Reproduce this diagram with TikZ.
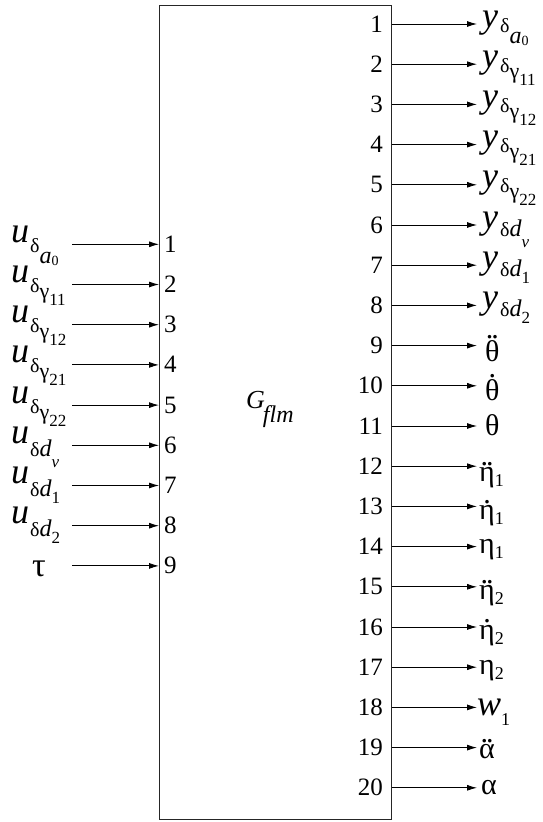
\documentclass[tikz,border=0pt]{standalone}
\usepackage{fontspec}
\setmainfont{Liberation Serif}
\usetikzlibrary{arrows.meta}
\newcommand{\fs}[1]{\fontsize{#1}{#1}\selectfont}
\newcommand{\Mn}[2]{\raisebox{#1}{\fs{36}\itshape #2}}
\newcommand{\Dl}[1]{\raisebox{#1}{\fs{20}δ}}
\newcommand{\Sa}{\raisebox{-19pt}{\fs{24}\itshape a}\raisebox{-21pt}{\fs{14}0}}
\newcommand{\Sg}[1]{\raisebox{-14pt}{\fs{22}γ}\raisebox{-21pt}{\fs{17}#1}}
\newcommand{\Sdv}{\raisebox{-11pt}{\fs{24}\itshape d}\raisebox{-22pt}{\fs{17}\itshape v}}
\newcommand{\Sdn}[1]{\raisebox{-11pt}{\fs{24}\itshape d}\raisebox{-18pt}{\fs{17}#1}}
\newsavebox{\accbox}
\newcommand{\Dot}[1]{\sbox{\accbox}{#1}\ooalign{\usebox{\accbox}\cr\hidewidth\raisebox{\dimexpr\ht\accbox+2pt\relax}{\smash{.}}\hidewidth\cr}}
\newcommand{\DDot}[1]{\sbox{\accbox}{#1}\ooalign{\usebox{\accbox}\cr\hidewidth\raisebox{\dimexpr\ht\accbox+2pt\relax}{\smash{.\kern-2pt.}}\hidewidth\cr}}
\newcommand{\Sb}[2]{\raisebox{#1}{\fs{18}#2}}
\tikzset{
  arr/.style={-{Latex[length=10pt,width=6pt]}, line width=0.9pt},
  num/.style={font=\fs{25}, inner sep=0pt},
  lab/.style={anchor=base west, inner sep=0pt},
  glab/.style={anchor=base west, inner sep=0pt, font=\fs{30}},
}
\begin{document}
\begin{tikzpicture}[x=1pt,y=-1pt]
\useasboundingbox (0,0) rectangle (542,822);
\node[draw=black!85, line width=1.2pt, minimum width=232pt, minimum height=814pt,
      anchor=north west, inner sep=0pt] (box) at (159,5) {};
\node[lab] (g) at (246,408) {\fs{26}\itshape G\kern-2pt\raisebox{-14pt}{\fs{24}\itshape flm}};
% inputs
\foreach \k in {1,...,9} {
  \coordinate (l\k) at (72,{244.3+40.2*(\k-1)});
  \draw[arr] (l\k) -- (l\k -| box.west);
  \node[num, anchor=base west] (ln\k) at (164,{252.3+40.2*(\k-1)}) {\k};
}
% outputs
\foreach \k in {1,...,20} {
  \coordinate (r\k) at (477,{24+40.2*(\k-1)});
  \draw[arr] (r\k -| box.east) -- (r\k);
  \node[num, anchor=base east] (rn\k) at (383,{32+40.2*(\k-1)}) {\k};
}
% input labels
\node[lab] (u1) at (11,{244.3+40.2*0}) {\Mn{2pt}{u}\kern1pt\Dl{-8pt}\Sa};
\node[lab] (u2) at (11,{244.3+40.2*1}) {\Mn{2pt}{u}\kern1pt\Dl{-8pt}\Sg{11}};
\node[lab] (u3) at (11,{244.3+40.2*2}) {\Mn{2pt}{u}\kern1pt\Dl{-8pt}\Sg{12}};
\node[lab] (u4) at (11,{244.3+40.2*3}) {\Mn{2pt}{u}\kern1pt\Dl{-8pt}\Sg{21}};
\node[lab] (u5) at (11,{244.3+40.2*4}) {\Mn{2pt}{u}\kern1pt\Dl{-8pt}\Sg{22}};
\node[lab] (u6) at (11,{244.3+40.2*5}) {\Mn{2pt}{u}\kern1pt\Dl{-11pt}\Sdv};
\node[lab] (u7) at (11,{244.3+40.2*6}) {\Mn{2pt}{u}\kern1pt\Dl{-11pt}\Sdn{1}};
\node[lab] (u8) at (11,{244.3+40.2*7}) {\Mn{2pt}{u}\kern1pt\Dl{-11pt}\Sdn{2}};
\node[lab, font=\fs{34}] (u9) at (32,{244.3+40.2*8+11}) {τ};
% output labels
\node[lab] (y1) at (482,{24+40.2*0}) {\Mn{-3pt}{y}\kern2pt\Dl{-8pt}\Sa};
\node[lab] (y2) at (482,{24+40.2*1}) {\Mn{-3pt}{y}\kern2pt\Dl{-8pt}\Sg{11}};
\node[lab] (y3) at (482,{24+40.2*2}) {\Mn{-3pt}{y}\kern2pt\Dl{-8pt}\Sg{12}};
\node[lab] (y4) at (482,{24+40.2*3}) {\Mn{-3pt}{y}\kern2pt\Dl{-8pt}\Sg{21}};
\node[lab] (y5) at (482,{24+40.2*4}) {\Mn{-3pt}{y}\kern2pt\Dl{-8pt}\Sg{22}};
\node[lab] (y6) at (482,{24+40.2*5}) {\Mn{-3pt}{y}\kern2pt\Dl{-11pt}\Sdv};
\node[lab] (y7) at (482,{24+40.2*6}) {\Mn{-3pt}{y}\kern2pt\Dl{-11pt}\Sdn{1}};
\node[lab] (y8) at (482,{24+40.2*7}) {\Mn{-3pt}{y}\kern2pt\Dl{-11pt}\Sdn{2}};
\node[glab] (o9)  at (485,{24+40.2*8+16})  {\DDot{θ}};
\node[glab] (o10) at (485,{24+40.2*9+15})  {\Dot{θ}};
\node[glab] (o11) at (485,{24+40.2*10+9})  {θ};
\node[glab] (o12) at (479,{24+40.2*11+15}) {\DDot{η}\Sb{-5pt}{1}};
\node[glab] (o13) at (479,{24+40.2*12+13}) {\Dot{η}\Sb{-5pt}{1}};
\node[glab] (o14) at (479,{24+40.2*13+7})  {η\Sb{-5pt}{1}};
\node[glab] (o15) at (479,{24+40.2*14+13}) {\DDot{η}\Sb{-5pt}{2}};
\node[glab] (o16) at (479,{24+40.2*15+12}) {\Dot{η}\Sb{-5pt}{2}};
\node[glab] (o17) at (479,{24+40.2*16+7})  {η\Sb{-5pt}{2}};
\node[lab]  (o18) at (477,{24+40.2*17+8})  {\Mn{0pt}{w}\Sb{-10pt}{1}};
\node[glab] (o19) at (479,{24+40.2*18+11}) {\DDot{α}};
\node[glab] (o20) at (481,{24+40.2*19+7})  {α};
\end{tikzpicture}
\end{document}
